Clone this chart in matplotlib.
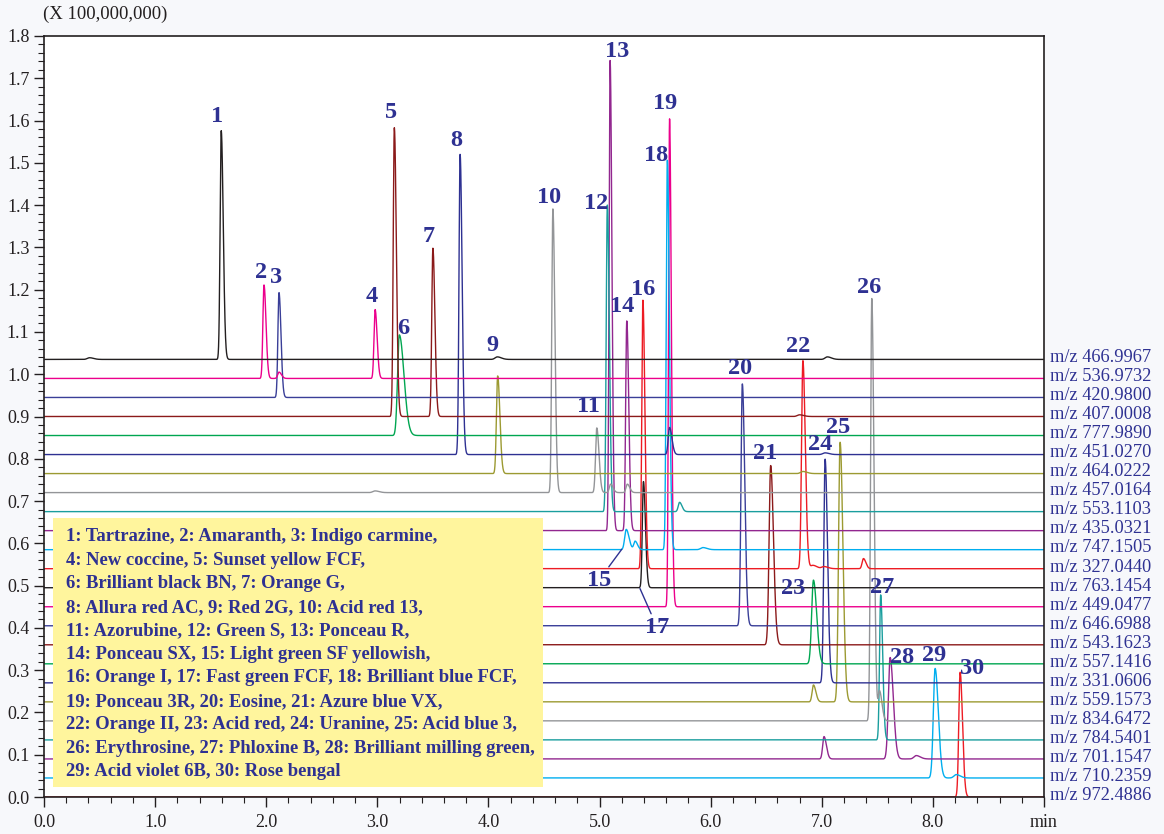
import numpy as np
import matplotlib.pyplot as plt
from matplotlib.ticker import MultipleLocator, FixedLocator

plt.rcParams['font.family'] = ['Liberation Serif', 'DejaVu Serif']

# one trace per monitored ion, top to bottom
mz_labels = ['466.9967', '536.9732', '420.9800', '407.0008', '777.9890', '451.0270',
             '464.0222', '457.0164', '553.1103', '435.0321', '747.1505', '327.0440',
             '763.1454', '449.0477', '646.6988', '543.1623', '557.1416', '331.0606',
             '559.1573', '834.6472', '784.5401', '701.1547', '710.2359', '972.4886']
palette = ['#231f20', '#ec008c', '#3a3f98', '#8b1a1a', '#00a651', '#2e3192',
           '#9c9a32', '#939598', '#1a9e9e', '#92278f', '#00aeef', '#ed1c24']
trace_colors = palette * 2
offset_step = 0.045

# numbered peaks: trace index, retention time (min), apex (x 1e8)
peak_trace = [0, 1, 2, 1, 3, 4, 3, 5, 6, 7, 7, 8, 9, 9, 10,
              11, 12, 10, 13, 14, 15, 11, 16, 17, 18, 19, 20, 21, 22, 23]
peak_rt = [1.595, 1.98, 2.115, 2.98, 3.153, 3.198, 3.50, 3.745, 4.083, 4.58,
           4.975, 5.07, 5.095, 5.245, 5.24, 5.39, 5.395, 5.61, 5.63, 6.285,
           6.54, 6.83, 6.925, 7.03, 7.165, 7.45, 7.53, 7.615, 8.02, 8.245]
peak_top = [1.576, 1.211, 1.193, 1.153, 1.583, 1.093, 1.298, 1.520, 0.996, 1.391,
            0.873, 1.400, 1.742, 1.126, 0.633, 1.175, 0.746, 1.506, 1.604, 0.977,
            0.784, 1.032, 0.513, 0.799, 0.839, 1.179, 0.478, 0.330, 0.304, 0.295]
peak_width = [0.010, 0.010, 0.010, 0.010, 0.010, 0.016, 0.010, 0.010, 0.011, 0.010,
              0.011, 0.010, 0.009, 0.010, 0.014, 0.010, 0.010, 0.010, 0.009, 0.012,
              0.014, 0.012, 0.016, 0.012, 0.014, 0.011, 0.010, 0.016, 0.016, 0.012]

# small unlabelled bumps: trace index, retention time, height above baseline
bump_trace = [0, 0, 0, 1, 3, 5, 5, 6, 7, 7, 7, 8, 10, 10, 11, 11, 11, 18, 19, 21, 21, 22]
bump_rt = [0.41, 4.08, 7.05, 2.115, 6.80, 5.63, 7.03, 6.83, 2.98, 5.10, 5.25, 5.72,
           5.32, 5.93, 6.92, 7.02, 7.375, 6.925, 7.52, 7.02, 7.85, 8.21]
bump_h = [0.004, 0.006, 0.006, 0.015, 0.004, 0.064, 0.004, 0.005, 0.004, 0.02, 0.02,
          0.022, 0.02, 0.005, 0.008, 0.005, 0.024, 0.04, 0.07, 0.053, 0.008, 0.008]

compounds = ['Tartrazine', 'Amaranth', 'Indigo carmine', 'New coccine', 'Sunset yellow FCF',
             'Brilliant black BN', 'Orange G', 'Allura red AC', 'Red 2G', 'Acid red 13',
             'Azorubine', 'Green S', 'Ponceau R', 'Ponceau SX', 'Light green SF yellowish',
             'Orange I', 'Fast green FCF', 'Brilliant blue FCF', 'Ponceau 3R', 'Eosine',
             'Azure blue VX', 'Orange II', 'Acid red', 'Uranine', 'Acid blue 3',
             'Erythrosine', 'Phloxine B', 'Brilliant milling green', 'Acid violet 6B', 'Rose bengal']
names_per_line = [3, 2, 2, 3, 3, 2, 3, 3, 4, 3, 2]

# label offsets in pixels (right, up) from each apex
label_off = {1: (-4, 14), 2: (-3, 13), 3: (-3, 15), 4: (-3, 13), 5: (-3, 15), 6: (4, 6),
             7: (-4, 12), 8: (-4, 14), 9: (-5, 30), 10: (-4, 11), 11: (-8, 21), 12: (-11, 2),
             13: (7, 9), 14: (-5, 14), 16: (0, 11), 18: (-11, 5), 19: (-4, 15), 20: (-2, 15),
             21: (-6, 12), 22: (-5, 14), 23: (-20, -8), 24: (-5, 15), 25: (-2, 15),
             26: (-3, 11), 27: (1, 7), 28: (12, 0), 29: (-1, 13), 30: (12, 4)}

navy = '#2e3192'
t = np.linspace(0, 9, 9001)


def shape(rt, s, tail=1.8):
    z = np.where(t < rt, (t - rt) / s, (t - rt) / (s * tail))
    return np.exp(-0.5 * z * z)


fig = plt.figure(figsize=(11.64, 8.34), dpi=100, facecolor='#f7f8fb')
ax = fig.add_axes([44 / 1164, 37 / 834, 1000 / 1164, 761 / 834])
ax.set_facecolor('white')

n = len(mz_labels)
for i in range(n):
    base = (n - 1 - i) * offset_step
    y = np.full_like(t, base)
    for k in range(len(peak_trace)):
        if peak_trace[k] == i:
            tail = 2.6 if k + 1 == 6 else 1.8
            y += (peak_top[k] - base) * shape(peak_rt[k], peak_width[k], tail)
    for k in range(len(bump_trace)):
        if bump_trace[k] == i:
            w = 0.02 if bump_h[k] < 0.01 else 0.012
            y += bump_h[k] * shape(bump_rt[k], w)
    ax.plot(t, y, color=trace_colors[i], lw=1.0, zorder=2 + (n - i) * 0.01)
    ax.text(1.006, base + 0.004, 'm/z ' + mz_labels[i], transform=ax.get_yaxis_transform(),
            ha='left', va='center', fontsize=13.2, color=navy)

for k in range(len(peak_trace)):
    num = k + 1
    if num in label_off:
        ax.annotate(str(num), (peak_rt[k], peak_top[k]), xytext=label_off[num],
                    textcoords='offset pixels', ha='center', va='center',
                    fontsize=17.5, fontweight='bold', color=navy, zorder=5)

ax.annotate('15', xy=(5.20, 0.586), xytext=(4.995, 0.513), ha='center', va='center',
            fontsize=17.5, fontweight='bold', color=navy, zorder=5,
            arrowprops=dict(arrowstyle='-', color=navy, lw=1.0, shrinkA=0, shrinkB=0))
ax.annotate('17', xy=(5.364, 0.493), xytext=(5.517, 0.402), ha='center', va='center',
            fontsize=17.5, fontweight='bold', color=navy, zorder=5,
            arrowprops=dict(arrowstyle='-', color=navy, lw=1.0, shrinkA=0, shrinkB=0))

# compound key
ax.add_patch(plt.Rectangle((0.009, 0.013), 0.49, 0.354, transform=ax.transAxes,
                           facecolor='#fff59d', edgecolor='none', zorder=6))
lines = []
idx = 0
for cnt in names_per_line:
    parts = ['%d: %s' % (idx + j + 1, compounds[idx + j]) for j in range(cnt)]
    idx += cnt
    lines.append(', '.join(parts) + (',' if idx < len(compounds) else ''))
for r, line in enumerate(lines):
    ax.text(0.022, 0.342 - r * 0.0309, line, transform=ax.transAxes, ha='left', va='center',
            fontsize=13.4, fontweight='bold', color=navy, zorder=7)

ax.set_xlim(0, 9.0)
ax.set_ylim(0, 1.8)
ax.xaxis.set_major_locator(FixedLocator(np.arange(0, 10)))
ax.set_xticklabels(['%.1f' % v for v in range(9)] + ['min'])
ax.xaxis.set_minor_locator(MultipleLocator(0.2))
ax.yaxis.set_major_locator(MultipleLocator(0.1))
ax.yaxis.set_minor_locator(MultipleLocator(0.02))
ax.yaxis.set_major_formatter(plt.FuncFormatter(lambda v, p: '%.1f' % v))
ax.tick_params(which='major', length=7, width=1, color='#231f20', labelsize=13,
               labelcolor='#231f20')
ax.tick_params(which='minor', length=4, width=0.8, color='#231f20')
ax.tick_params(axis='x', pad=5)
for s in ax.spines.values():
    s.set_color('#231f20')
    s.set_linewidth(1.2)

fig.text(43 / 1164, 1 - 14 / 834, '(X 100,000,000)', ha='left', va='center',
         fontsize=13.5, color='#231f20')

fig.savefig('out.png', dpi=100, facecolor=fig.get_facecolor())
